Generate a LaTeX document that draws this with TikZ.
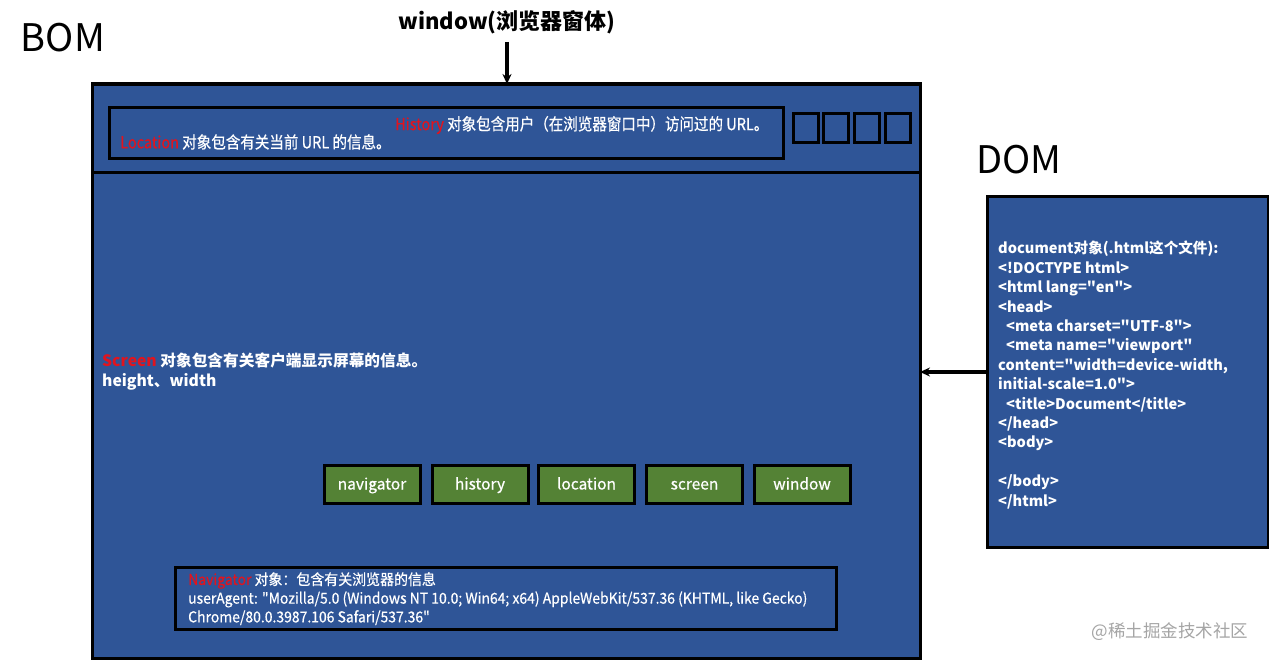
\documentclass[tikz,border=0pt]{standalone}
\usepackage{fontspec}
\usepackage{graphicx}
\newfontfamily\yh{Noto Sans CJK SC}
\newfontfamily\yhmed{Noto Sans CJK SC}[FakeBold=0.6]
\usetikzlibrary{arrows.meta}
\definecolor{bomblue}{RGB}{47,85,151}
\definecolor{btngreen}{RGB}{84,130,53}
\definecolor{objred}{RGB}{225,20,30}
\definecolor{wmgray}{RGB}{165,165,165}
\tikzset{
  panel/.style={draw=black, line width=3pt, fill=bomblue, inner sep=0pt, outer sep=0pt, anchor=north west},
  emptybox/.style={draw=black, line width=3pt, inner sep=0pt, outer sep=0pt, minimum width=25pt, minimum height=29pt},
  objbtn/.style={draw=black, line width=3pt, fill=btngreen, text=white, inner sep=0pt, outer sep=0pt,
    minimum width=96pt, minimum height=38pt, text height=13pt, text depth=2pt,
    font=\yhmed\fontsize{15.5}{18}\selectfont},
  bigtitle/.style={font=\yh\fontsize{38}{44}\selectfont, text=black, inner sep=0pt},
  txt/.style={text=white, inner sep=0pt, align=left, anchor=north west},
  arrowline/.style={line width=3.2pt, -{Stealth[length=10pt,width=9pt]}}
}
\newcommand{\rd}[1]{\textcolor{objred}{#1}}
\begin{document}
\yh
\begin{tikzpicture}[x=1pt,y=-1pt]
\useasboundingbox (0,0) rectangle (1269,661);
\fill[white] (0,0) rectangle (1269,661);

% titles
\node[bigtitle] (bom) at (63,38) {BOM};
\node[bigtitle] (dom) at (1019,160) {DOM};
\node[font=\yh\bfseries\fontsize{22}{26}\selectfont, inner sep=0pt] (wlabel) at (507,22) {window(浏览器窗体)};

% browser window
\node[panel, minimum width=828pt, minimum height=574pt] (win) at (92,84) {};
\draw[line width=3pt] (92,172) -- (920,172);

% top bar
\node[panel, minimum width=674pt, minimum height=51pt] (bar) at (109,107) {};
\node[emptybox] (sq1) at (805.5,128) {};
\node[emptybox] (sq2) at (835.5,128) {};
\node[emptybox] (sq3) at (866.5,128) {};
\node[emptybox] (sq4) at (897.5,128) {};
\node[txt, anchor=west, font=\yhmed\fontsize{16.5}{18}\selectfont] (histtxt) at (395,125)
  {\scalebox{0.88}[1]{\rd{History} 对象包含用户（在浏览器窗口中）访问过的 URL。}};
\node[txt, anchor=west, font=\yhmed\fontsize{16.5}{18}\selectfont] (loctxt) at (120,142)
  {\scalebox{0.88}[1]{\rd{Location} 对象包含有关当前 URL 的信息。}};

% screen
\node[txt, font=\yh\bfseries\fontsize{15.7}{20}\selectfont] (scrtxt) at (102,353)
  {\rd{Screen} 对象包含有关客户端显示屏幕的信息。\\height、width};

% buttons
\node[objbtn] (bnav) at (372,484) {navigator};
\node[objbtn] (bhis) at (480,484) {history};
\node[objbtn] (bloc) at (586.5,484) {location};
\node[objbtn] (bscr) at (694.5,484) {screen};
\node[objbtn] (bwin) at (802,484) {window};

% navigator
\node[panel, minimum width=661pt, minimum height=62pt] (nav) at (175,567) {};
\node[txt, font=\yhmed\fontsize{15}{18.7}\selectfont] (navtxt) at (188,572)
  {\scalebox{0.93}[1]{\rd{Navigator} 对象：包含有关浏览器的信息}\\
   \scalebox{0.93}[1]{userAgent: "Mozilla/5.0 (Windows NT 10.0; Win64; x64) AppleWebKit/537.36 (KHTML, like Gecko)}\\
   \scalebox{0.93}[1]{Chrome/80.0.3987.106 Safari/537.36"}};

% DOM
\node[panel, minimum width=281pt, minimum height=351pt] (dombox) at (987,196) {};
\node[txt, font=\yh\bfseries\fontsize{14.6}{19.4}\selectfont] (domtxt) at (998,241)
  {document对象(.html这个文件):\\
   <!DOCTYPE html>\\
   <html lang="en">\\
   <head>\\
   \hspace*{8pt}<meta charset="UTF-8">\\
   \hspace*{8pt}<meta name="viewport"\\
   content="width=device-width,\\
   initial-scale=1.0">\\
   \hspace*{8pt}<title>Document</title>\\
   </head>\\
   <body>\\
   \mbox{}\\
   </body>\\
   </html>};

% watermark
\node[text=wmgray, font=\yh\fontsize{17.5}{20}\selectfont, inner sep=0pt] (wm) at (1170,632) {@稀土掘金技术社区};

% connectors
\coordinate (wstart) at (507,42);
\coordinate (wtop) at (507,84);
\draw[arrowline] (wstart) -- (wtop);
\coordinate (domarr) at (987,372);
\coordinate (winarr) at (920,372);
\draw[arrowline] (domarr) -- (winarr);
\end{tikzpicture}
\end{document}
